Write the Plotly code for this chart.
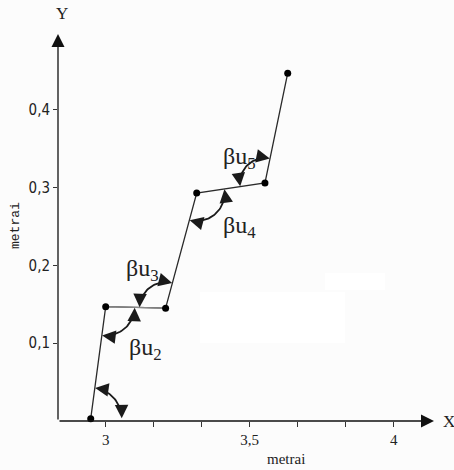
import math
import plotly.graph_objects as go

# ---- data ----
x_pts = [2.948, 3.0, 3.208, 3.316, 3.553, 3.632]
y_pts = [0.003, 0.147, 0.145, 0.293, 0.306, 0.447]
y_tickvals = [0.1, 0.2, 0.3, 0.4]
y_ticktext = ["0,1", "0,2", "0,3", "0,4"]
x_tickvals = [3.0, 3.1667, 3.3333, 3.5, 3.6667, 3.8333, 4.0]
x_ticktext = ["3", "", "", "3,5", "", "", "4"]
angle_labels = ["βu<sub>2</sub>", "βu<sub>3</sub>", "βu<sub>4</sub>", "βu<sub>5</sub>"]

# ---- layout geometry ----
W, H = 454, 470
ML, MR, MT, MB = 58, 17, 32, 49
PW, PH = W - ML - MR, H - MT - MB
XR = [2.8344, 2.8344 + PW / 288.0]
YR = [0.0, 0.5]
sx = PW / (XR[1] - XR[0])
sy = PH / (YR[1] - YR[0])


def px2data(px, py):
    return XR[0] + (px - ML) / sx, YR[0] + (H - MB - py) / sy


def px2paper(px, py):
    return (px - ML) / PW, (H - MB - py) / PH


fig = go.Figure()
BG = "#fcfcfc"

# path
fig.add_trace(go.Scatter(x=x_pts, y=y_pts, mode="lines", line=dict(color="#2a2a2a", width=1.3),
                         hoverinfo="skip", cliponaxis=False))
fig.add_trace(go.Scatter(x=x_pts[1:3], y=y_pts[1:3], mode="lines", line=dict(color="#8a8a8a", width=1.3),
                         hoverinfo="skip", cliponaxis=False))
fig.add_trace(go.Scatter(x=x_pts, y=y_pts, mode="markers", marker=dict(color="black", size=7),
                         hoverinfo="skip", cliponaxis=False))

annotations = []

# angle arcs (vertex index, radius px)
arc_specs = [(0, 31), (1, 29), (2, 26), (3, 28), (4, 25)]
for idx, r in arc_specs:
    vx, vy = x_pts[idx], y_pts[idx]
    dirs = []
    if idx == 0:
        dirs.append(0.0)  # along x axis
    else:
        dirs.append(math.atan2((y_pts[idx - 1] - vy) * sy, (x_pts[idx - 1] - vx) * sx))
    dirs.append(math.atan2((y_pts[idx + 1] - vy) * sy, (x_pts[idx + 1] - vx) * sx))
    a1, a2 = dirs
    diff = (a2 - a1) % (2 * math.pi)
    if diff > math.pi:
        a1, a2 = a2, a1
        diff = 2 * math.pi - diff
    pad = 0.14
    n = 30
    xs, ys = [], []
    for k in range(n + 1):
        a = a1 + pad + (diff - 2 * pad) * k / n
        xs.append(vx + r * math.cos(a) / sx)
        ys.append(vy + r * math.sin(a) / sy)
    fig.add_trace(go.Scatter(x=xs, y=ys, mode="lines", line=dict(color="#1a1a1a", width=1.8),
                             hoverinfo="skip", cliponaxis=False))
    # arrowheads at both ends
    Lh = 10
    for a, sgn in ((a1 + 0.01, -1), (a1 + diff - 0.01, 1)):
        tx = vx + r * math.cos(a) / sx
        ty = vy + r * math.sin(a) / sy
        dx, dy = -math.sin(a) * sgn, math.cos(a) * sgn
        annotations.append(dict(x=tx, y=ty, xref="x", yref="y", ax=-dx * Lh, ay=dy * Lh,
                                showarrow=True, arrowhead=2, arrowsize=1.8, arrowwidth=1.5,
                                arrowcolor="#1a1a1a", text=""))

# angle labels
label_px = [(145, 349), (142, 270), (239, 227), (239, 158)]
for txt, (px, py) in zip(angle_labels, label_px):
    lx, ly = px2data(px, py)
    annotations.append(dict(x=lx, y=ly, xref="x", yref="y", text=txt, showarrow=False,
                            font=dict(family="Liberation Serif", size=24, color="#222")))

# axis arrows
xt, _ = px2data(434, 0)
_, yt = px2data(0, 34)
annotations.append(dict(x=xt, y=0, ax=XR[0], ay=0, axref="x", ayref="y", xref="x", yref="y",
                        showarrow=True, arrowhead=2, arrowsize=2.0, arrowwidth=1.3,
                        arrowcolor="#111", text=""))
annotations.append(dict(x=XR[0], y=yt, ax=XR[0], ay=0, axref="x", ayref="y", xref="x", yref="y",
                        showarrow=True, arrowhead=2, arrowsize=2.0, arrowwidth=1.3,
                        arrowcolor="#111", text=""))


def text_at(px, py, txt, font, angle=0):
    lx, ly = px2paper(px, py)
    annotations.append(dict(x=lx, y=ly, xref="paper", yref="paper", text=txt, showarrow=False,
                            textangle=angle, font=font, xanchor="center", yanchor="middle"))


# axis titles
text_at(62, 14, "Y", dict(family="Liberation Serif", size=17, color="#222"))
text_at(449, 422, "X", dict(family="Liberation Serif", size=17, color="#222"))
text_at(286, 459, "metrai", dict(family="Liberation Serif", size=15, color="#222"))
text_at(15, 226, "metrai", dict(family="Liberation Mono", size=13, color="#222"), angle=-90)

# faint white patches
shapes = []
for (x0p, y0p, x1p, y1p) in [(200, 292, 345, 343), (325, 273, 385, 290)]:
    ax0, ay0 = px2data(x0p, y1p)
    ax1, ay1 = px2data(x1p, y0p)
    shapes.append(dict(type="rect", xref="x", yref="y", x0=ax0, x1=ax1, y0=ay0, y1=ay1,
                       fillcolor="#ffffff", line=dict(width=0), layer="below"))

fig.update_layout(
    width=W, height=H,
    margin=dict(l=ML, r=MR, t=MT, b=MB),
    paper_bgcolor=BG, plot_bgcolor=BG,
    showlegend=False,
    annotations=annotations,
    shapes=shapes,
    xaxis=dict(range=XR, showgrid=False, zeroline=False, showline=False,
               tickvals=x_tickvals, ticktext=x_ticktext, ticks="outside", ticklen=5,
               tickcolor="#333", tickwidth=1,
               tickfont=dict(family="Liberation Serif", size=15, color="#222")),
    yaxis=dict(range=YR, showgrid=False, zeroline=False, showline=False,
               tickvals=y_tickvals, ticktext=y_ticktext, ticks="outside", ticklen=4,
               tickcolor="#333", tickwidth=1,
               tickfont=dict(family="DejaVu Sans Condensed", size=15, color="#222")),
)

fig.write_html("out.html", config={"displayModeBar": False},
               post_script="document.body.style.margin='0';")
